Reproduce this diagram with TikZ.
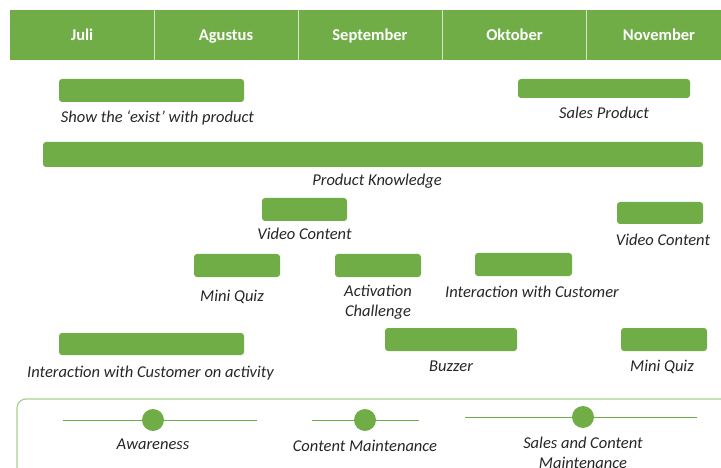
\documentclass[tikz,border=0pt]{standalone}
\usepackage{fontspec}
\setmainfont{Carlito}
\usepackage{tikz}
\usetikzlibrary{positioning}

\definecolor{leafgreen}{HTML}{70AD47}
\definecolor{paleline}{HTML}{D3E6C5}
\definecolor{boxline}{HTML}{A9D18E}
\definecolor{inkgray}{HTML}{262626}

\begin{document}
\begin{tikzpicture}[x=1pt, y=-1pt,
    month/.style = {fill=leafgreen, minimum width=144pt, minimum height=50pt, inner sep=0pt,
                    text height=12pt, text depth=0pt,
                    text=white, font=\fontsize{16.5}{20}\selectfont\bfseries},
    bar/.style = {fill=leafgreen, rounded corners=3pt, minimum height=23pt, inner sep=0pt},
    lbl/.style = {inner sep=0pt, text height=11.5pt, text depth=3.5pt, text=inkgray,
                  font=\fontsize{16.5}{20}\selectfont\itshape},
    lbltwo/.style = {inner sep=0pt, align=center, text=inkgray,
                     font=\fontsize{16.5}{19.5}\selectfont\itshape},
    phase/.style = {circle, fill=leafgreen, minimum size=22pt, inner sep=0pt},
    track/.style = {draw=leafgreen, line width=0.9pt},
    divider/.style = {draw=paleline, line width=1.2pt}]

    \useasboundingbox (0,0) rectangle (721,468);
    \clip (0,0) rectangle (721,468);

    % months
    \node[month] (jul) at (82,35) {Juli};
    \node[month] (agu) at (226,35) {Agustus};
    \node[month] (sep) at (370,35) {September};
    \node[month] (okt) at (514.5,35) {Oktober};
    \node[month] (nov) at (659,35) {November};

    \draw[divider] (jul.north east) -- (jul.south east);
    \draw[divider] (agu.north east) -- (agu.south east);
    \draw[divider] (sep.north east) -- (sep.south east);
    \draw[divider] (okt.north east) -- (okt.south east);

    % activities
    \node[bar, minimum width=185pt] (show) at (151.5,90.5) {};
    \node[lbl] (showL) [below=8.5pt of show, xshift=6pt] {Show the ‘exist’ with product};

    \node[bar, minimum width=172pt, minimum height=19pt] (sales) at (604,88.5) {};
    \node[lbl] (salesL) [below=9pt of sales] {Sales Product};

    \node[bar, minimum width=660pt, minimum height=25pt] (know) at (373,154.5) {};
    \node[lbl] (knowL) [below=6.5pt of know, xshift=4pt] {Product Knowledge};

    \node[bar, minimum width=85pt] (video) at (304.5,209.5) {};
    \node[lbl] (videoL) [below=6.5pt of video] {Video Content};

    \node[bar, minimum width=86pt, minimum height=22pt] (videoB) at (660,213) {};
    \node[lbl] (videoBL) [below=10pt of videoB, xshift=3pt] {Video Content};

    \node[bar, minimum width=86pt] (quiz) at (237,265.5) {};
    \node[lbl] (quizL) [below=12.5pt of quiz, xshift=-5pt] {Mini Quiz};

    \node[bar, minimum width=86pt] (act) at (378,265.5) {};
    \node[lbltwo] (actL) [below=8pt of act] {Activation\\Challenge};

    \node[bar, minimum width=97pt] (cust) at (523.5,264.5) {};
    \node[lbl] (custL) [below=10pt of cust, xshift=8.5pt] {Interaction with Customer};

    \node[bar, minimum width=185pt, minimum height=22pt] (custAct) at (151.5,344) {};
    \node[lbl] (custActL) [below=11pt of custAct, xshift=-1pt] {Interaction with Customer on activity};

    \node[bar, minimum width=132pt] (buzz) at (451,339.5) {};
    \node[lbl] (buzzL) [below=8.5pt of buzz] {Buzzer};

    \node[bar, minimum width=86pt] (quizB) at (664,339.5) {};
    \node[lbl] (quizBL) [below=8.5pt of quizB, xshift=-2pt] {Mini Quiz};

    % legend
    \draw[draw=boxline, line width=1.2pt, rounded corners=9pt] (17,399) rectangle (745,490);

    \coordinate (awW) at (63,420);
    \coordinate (awE) at (257,420);
    \coordinate (cmW) at (312,420);
    \coordinate (cmE) at (419,420);
    \coordinate (scW) at (465,417);
    \coordinate (scE) at (697,417);
    \draw[track] (awW) -- (awE);
    \draw[track] (cmW) -- (cmE);
    \draw[track] (scW) -- (scE);

    \node[phase] (aware) at (153,420) {};
    \node[phase] (maint) at (365,420) {};
    \node[phase] (salesMaint) at (583,417) {};

    \node[lbl] (awareL) [below=6.5pt of aware] {Awareness};
    \node[lbl] (maintL) [below=8.5pt of maint] {Content Maintenance};
    \node[lbltwo] (salesMaintL) [below=9pt of salesMaint] {Sales and Content\\Maintenance};
\end{tikzpicture}
\end{document}
